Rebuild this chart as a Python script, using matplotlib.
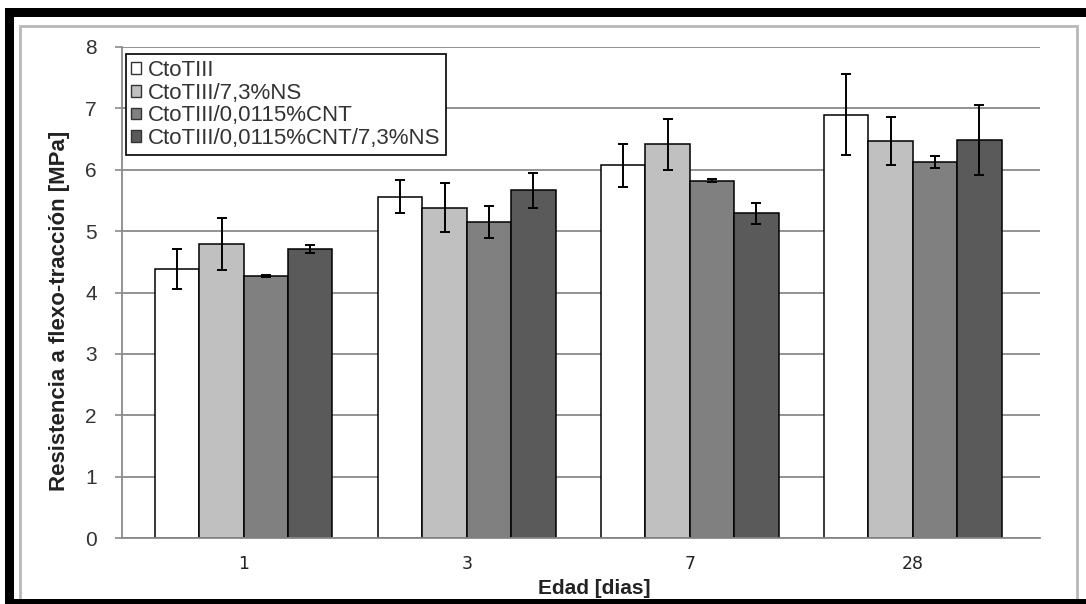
import matplotlib
matplotlib.use("Agg")
import matplotlib.pyplot as plt
from matplotlib.patches import Rectangle, Patch
import numpy as np

plt.rcParams['font.family'] = ['Liberation Sans', 'DejaVu Sans']

# Flexural strength (MPa) by curing age, four mixes
ages = ["1", "3", "7", "28"]
series = ["CtoTIII", "CtoTIII/7,3%NS", "CtoTIII/0,0115%CNT", "CtoTIII/0,0115%CNT/7,3%NS"]
ctotiii = [4.38, 5.56, 6.07, 6.89]
ctotiii_ns = [4.79, 5.38, 6.41, 6.46]
ctotiii_cnt = [4.27, 5.15, 5.82, 6.12]
ctotiii_cnt_ns = [4.71, 5.66, 5.29, 6.48]
err_ctotiii = [0.33, 0.27, 0.35, 0.66]
err_ctotiii_ns = [0.42, 0.40, 0.42, 0.39]
err_ctotiii_cnt = [0.02, 0.26, 0.02, 0.10]
err_ctotiii_cnt_ns = [0.07, 0.28, 0.17, 0.57]

values = [ctotiii, ctotiii_ns, ctotiii_cnt, ctotiii_cnt_ns]
errors = [err_ctotiii, err_ctotiii_ns, err_ctotiii_cnt, err_ctotiii_cnt_ns]
colors = ["#ffffff", "#c0c0c0", "#808080", "#5a5a5a"]

W, H = 1086, 604
fig = plt.figure(figsize=(W / 100, H / 100), dpi=100)

def fx(px):
    return px / W

def fy(py):
    return 1 - py / H

# picture frame: black bands and light gray chart-area border
fig.patches.append(Rectangle((fx(20), fy(603)), fx(1077) - fx(20), fy(26) - fy(603),
                             transform=fig.transFigure, fill=False,
                             edgecolor="#b8b8b8", lw=2.0, zorder=0))
for (x0, y0, x1, y1) in [(5, 8, 1086, 17), (5, 8, 14, 604), (5, 599, 1086, 604)]:
    fig.patches.append(Rectangle((fx(x0), fy(y1)), fx(x1) - fx(x0), fy(y0) - fy(y1),
                                 transform=fig.transFigure, facecolor="black",
                                 edgecolor="none", zorder=5))

left, right, top, bottom = 121.7, 1040, 46.7, 538.3
ax = fig.add_axes([fx(left), fy(bottom), fx(right) - fx(left), fy(top) - fy(bottom)])

x = np.arange(len(ages))
bw = 0.199
for i, (vals, errs, col) in enumerate(zip(values, errors, colors)):
    pos = x + (i - 1.5) * bw
    ax.bar(pos, vals, width=bw, color=col, edgecolor="black", linewidth=1.1,
           label=series[i], zorder=2)
    ax.errorbar(pos, vals, yerr=errs, fmt="none", ecolor="black", elinewidth=1.4,
                capsize=3.6, capthick=1.4, zorder=3)

ax.set_xlim(-0.547, 3.57)
ax.set_ylim(0, 8)
ax.set_yticks(range(0, 9))
ax.set_xticks(x)
ax.set_xticklabels(ages, fontsize=12.5, family="DejaVu Sans", color="#222222")
ax.tick_params(axis="x", length=0, pad=12)
ax.tick_params(axis="y", length=5, width=1.2, color="#8a8a8a", pad=13,
               labelsize=15, labelcolor="#333333", direction="out")
ax.yaxis.grid(True, color="#8a8a8a", lw=1.3)
ax.set_axisbelow(True)
for s in ["top", "right"]:
    ax.spines[s].set_visible(False)
for s in ["left", "bottom"]:
    ax.spines[s].set_color("#8a8a8a")
    ax.spines[s].set_linewidth(1.3)

handles = [Patch(facecolor=c, edgecolor="#333333", linewidth=1.0) for c in colors]
leg = ax.legend(handles, series, loc="upper left",
                bbox_to_anchor=(fx(125.7), fy(54.3)), bbox_transform=fig.transFigure,
                fontsize=16, frameon=True, fancybox=False, shadow=False,
                handlelength=0.45, handleheight=0.45, handletextpad=0.3,
                labelspacing=0.08, borderpad=0.25, borderaxespad=0, framealpha=1)
leg.get_frame().set_edgecolor("black")
leg.get_frame().set_linewidth(1.2)
for t in leg.get_texts():
    t.set_color("#333333")

fig.text(fx(594), fy(588), "Edad [dias]", ha="center", va="center",
         fontsize=15, fontweight="bold", color="#222222")
fig.text(fx(60), fy(310.5), "Resistencia a flexo-tracción [MPa]", ha="center",
         va="center", rotation=90, fontsize=16, fontweight="bold", color="#222222")

fig.savefig("out.png", dpi=100, facecolor="white")
